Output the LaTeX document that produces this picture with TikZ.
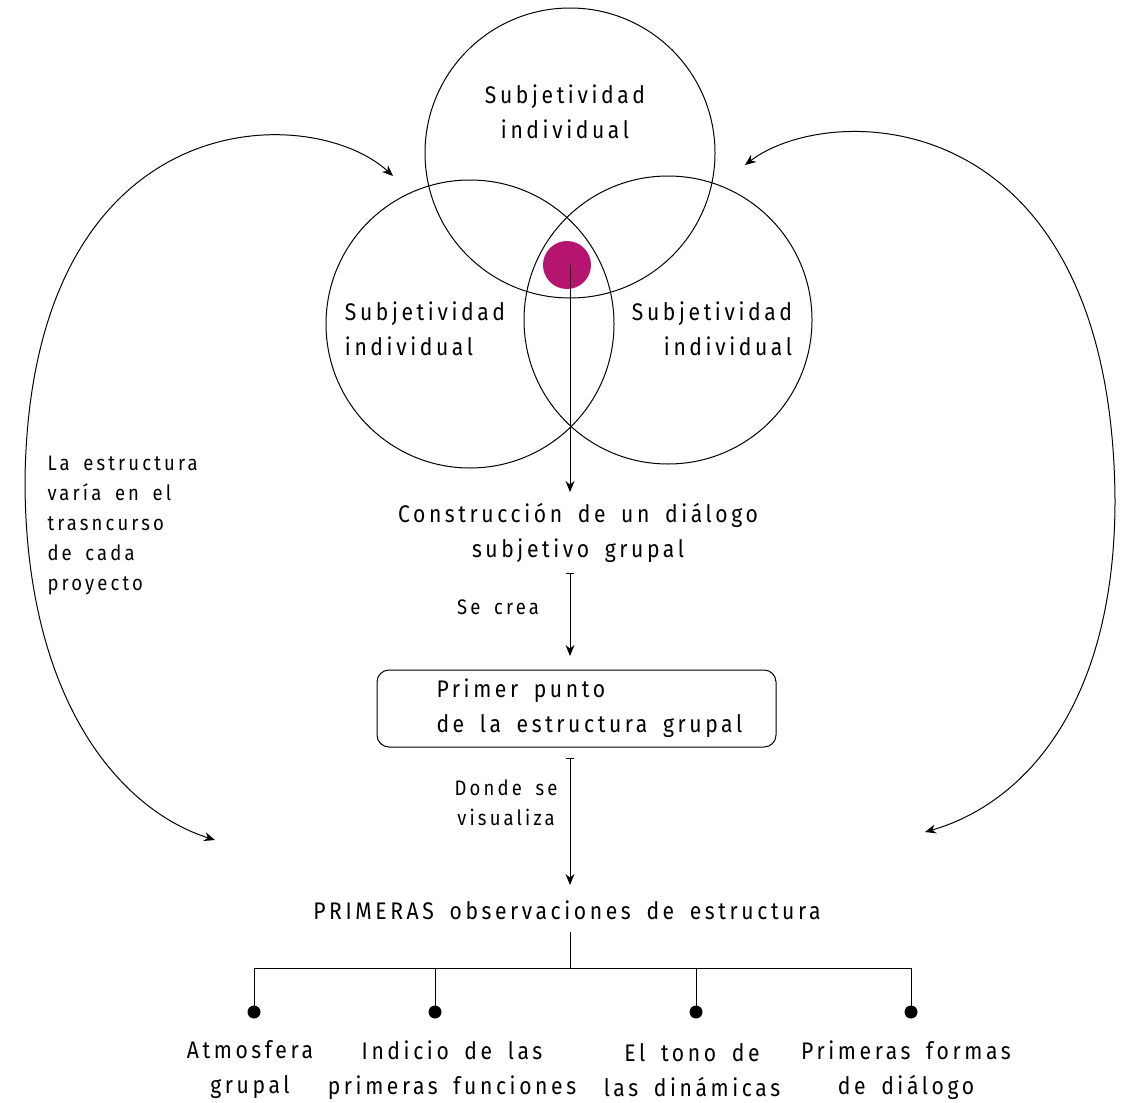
\documentclass[tikz,border=0pt]{standalone}
\usepackage{fontspec}
\setmainfont{Fira Sans}[FakeStretch=0.88, LetterSpace=15, WordSpace=1.7]
\usetikzlibrary{arrows.meta}
\definecolor{dotmag}{HTML}{B5156F}
\begin{document}
\begin{tikzpicture}[x=1pt,y=-1pt,
  line width=1pt,
  txt/.style={font=\fontsize{24}{35}\selectfont, align=center, inner sep=0pt},
  smalltxt/.style={font=\fontsize{21}{30}\selectfont, align=center, inner sep=0pt},
  arr/.style={-{Stealth[length=11pt,width=9pt]}},
  teearr/.style={{Bar[width=8pt]}-{Stealth[length=11pt,width=9pt]}},
  bigcircle/.style={draw, circle, line width=1pt},
  leaf/.style={circle, fill=black, inner sep=0pt, minimum size=13pt}]
\useasboundingbox (0,0) rectangle (1123,1102);

% three overlapping circles
\draw[bigcircle] (570,153) circle (145);
\draw[bigcircle] (470,324) circle (144);
\draw[bigcircle] (668,320) circle (144);

\node[txt] (s1) at (565,112) {Subjetividad\\individual};
\node[txt, align=left] (s2) at (425,329) {Subjetividad\\individual};
\node[txt, align=right] (s3) at (712,329) {Subjetividad\\individual};

% shared centre
\node[circle, fill=dotmag, minimum size=48pt, inner sep=0pt] (dot) at (567,265) {};

\node[txt] (dialogo) at (578,533) {Construcción de un diálogo\\subjetivo grupal};
\coordinate (d1) at (570,265);
\draw[arr] (d1) -- (570,492) coordinate (d2);

% step to the first structure point
\coordinate (c1) at (570,573);
\coordinate (c2) at (570,656);
\draw[teearr] (c1) -- (c2);
\node[smalltxt] (secrea) at (498,607) {Se crea};

\node[draw, rounded corners=12pt, minimum width=399pt, minimum height=77pt, inner sep=0pt] (box) at (576.5,708.5) {};
\node[txt, align=left, anchor=west] (boxtxt) at (436,708) {Primer punto\\de la estructura grupal};

\coordinate (e1) at (570,758);
\coordinate (e2) at (570,885);
\draw[teearr] (e1) -- (e2);
\node[smalltxt] (donde) at (506,803) {Donde se\\visualiza};

\node[txt] (prim) at (567,910) {PRIMERAS observaciones de estructura};

% branching tree
\coordinate (t0) at (570,932);
\coordinate (t1) at (570,968);
\coordinate (h1) at (254,968);
\coordinate (h2) at (435,968);
\coordinate (h3) at (696,968);
\coordinate (h4) at (911,968);
\node[leaf] (l1) at (254,1012) {};
\node[leaf] (l2) at (435,1012) {};
\node[leaf] (l3) at (696,1012) {};
\node[leaf] (l4) at (911,1012) {};
\draw (t0) -- (t1);
\draw (h1) -- (h4);
\draw (h1) -- (l1.center);
\draw (h2) -- (l2.center);
\draw (h3) -- (l3.center);
\draw (h4) -- (l4.center);

\node[txt] (a1) at (250,1070) {Atmosfera\\grupal};
\node[txt] (a2) at (452,1070) {Indicio de las\\primeras funciones};
\node[txt] (a3) at (692,1070) {El tono de\\las dinámicas};
\node[txt] (a4) at (906,1070) {Primeras formas\\de diálogo};

% side loops
\node[smalltxt, align=left, anchor=north west] (side) at (47,456) {La estructura\\varía en el\\trasncurso\\de cada\\proyecto};

\coordinate (la) at (393,176);
\coordinate (lb) at (215,840);
\coordinate (ra) at (745,165);
\coordinate (rb) at (925,832);
\draw[{Stealth[length=11pt,width=9pt]}-{Stealth[length=11pt,width=9pt]}]
  (la) .. controls (310,100) and (30,100) .. (25,480)
       .. controls (25,700) and (120,810) .. (lb);
\draw[{Stealth[length=11pt,width=9pt]}-{Stealth[length=11pt,width=9pt]}]
  (ra) .. controls (830,100) and (1112,100) .. (1115,500)
       .. controls (1115,710) and (1020,805) .. (rb);
\end{tikzpicture}
\end{document}
